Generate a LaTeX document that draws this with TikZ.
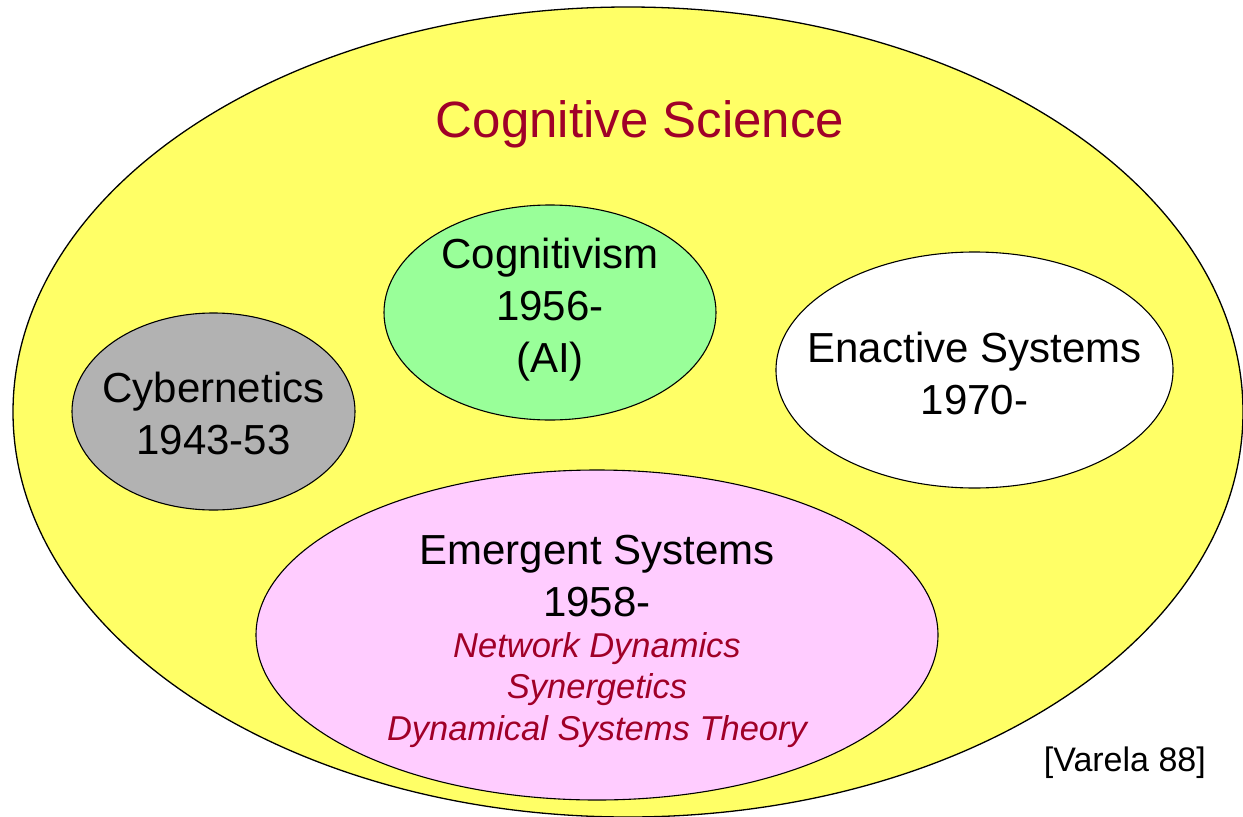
\documentclass[tikz,border=0pt]{standalone}
\usepackage{fontspec}
\setmainfont{Liberation Sans}
\usetikzlibrary{shapes.geometric}
\definecolor{fieldyellow}{HTML}{FFFF66}
\definecolor{cybergray}{HTML}{B2B2B2}
\definecolor{cogngreen}{HTML}{99FF99}
\definecolor{emergpink}{HTML}{FFCCFF}
\definecolor{titlered}{RGB}{160,0,40}
\tikzset{
  area/.style={ellipse, draw=black, line width=1.1pt, inner sep=0pt},
  areatext/.style={align=center, inner sep=0pt, font=\fontsize{42}{52}\selectfont},
  subtext/.style={align=center, inner sep=0pt, font=\fontsize{34.5}{41.5}\selectfont\itshape, text=titlered}
}
\begin{document}
\begin{tikzpicture}[x=1pt,y=-1pt]
  \useasboundingbox (0,0) rectangle (1243,817);
  % the whole field
  \node[ellipse, draw=black, line width=1.3pt, fill=fieldyellow, inner sep=0pt,
        minimum width=1230pt, minimum height=810pt] (cs) at (628,412) {};
  \node[font=\fontsize{51}{60}\selectfont, text=titlered, inner sep=0pt] (title) at (640,124) {Cognitive Science};
  % the four approaches
  \node[area, fill=cybergray, minimum width=283pt, minimum height=197pt] (cyb) at (213.5,411.5) {};
  \node[areatext] (cybtext) at (213.5,413) {Cybernetics\\1943-53};
  \node[area, fill=cogngreen, minimum width=332pt, minimum height=215pt] (cog) at (550,312.5) {};
  \node[areatext] (cogtext) at (550,310) {Cognitivism\\1956-\\(AI)};
  \node[area, fill=white, minimum width=397pt, minimum height=236pt] (ena) at (974.5,370) {};
  \node[areatext] (enatext) at (974.5,373) {Enactive Systems\\1970-};
  \node[area, fill=emergpink, minimum width=682pt, minimum height=330pt] (eme) at (597,635) {};
  \node[areatext] (emetext) at (597,576) {Emergent Systems\\1958-};
  \node[subtext] (emesub) at (597,690) {Network Dynamics\\Synergetics\\Dynamical Systems Theory};
  % source
  \node[font=\fontsize{34}{40}\selectfont, anchor=east, inner sep=0pt] (src) at (1206,763) {[Varela 88]};
\end{tikzpicture}
\end{document}
